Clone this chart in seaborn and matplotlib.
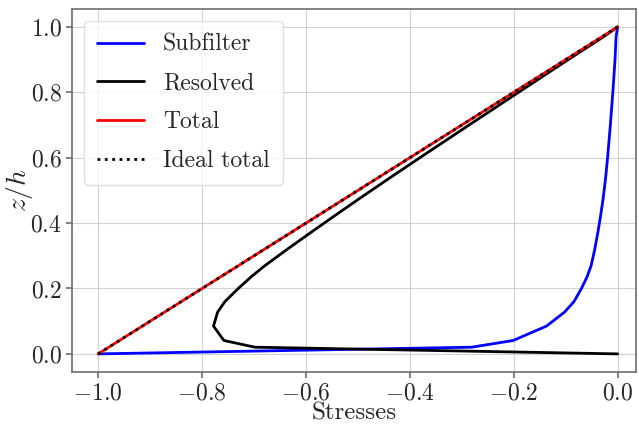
import seaborn as sns
import matplotlib.pyplot as plt

# Heights (z/h) at which the stress profiles are sampled
z = [0.0, 0.0205, 0.041, 0.085, 0.128, 0.16, 0.199, 0.235, 0.270, 0.32, 0.372, 0.42, 0.474,
     0.54, 0.606, 0.7, 0.805, 0.9, 0.97, 1.0]

# Stress profiles
subfilter = [-1.0, -0.281, -0.201, -0.137, -0.102, -0.084, -0.070, -0.059, -0.051, -0.044, -0.038,
             -0.033, -0.028, -0.023, -0.019, -0.014, -0.009, -0.005, -0.003, 0.0]
resolved = [0.0, -0.6985, -0.758, -0.778, -0.770, -0.756, -0.731, -0.706, -0.679, -0.636, -0.590,
            -0.547, -0.498, -0.437, -0.375, -0.286, -0.186, -0.095, -0.027, 0.0]
total = [-1.0, -0.9795, -0.959, -0.915, -0.872, -0.84, -0.801, -0.765, -0.730, -0.68, -0.628,
         -0.58, -0.526, -0.46, -0.394, -0.3, -0.195, -0.1, -0.03, 0.0]

# Ideal linear total stress
ideal_z = [0.0, 1.0]
ideal_total = [-1.0, 0.0]

sns.set_theme(style="ticks")
plt.rcParams["font.family"] = "serif"
plt.rcParams["font.serif"] = ["cmr10"]
plt.rcParams["mathtext.fontset"] = "cm"
plt.rcParams["axes.formatter.use_mathtext"] = True
plt.rcParams["axes.unicode_minus"] = True

fig, ax = plt.subplots(figsize=(6.39, 4.25), dpi=100)
fig.subplots_adjust(left=0.113, right=0.995, bottom=0.125, top=0.979)

sns.lineplot(x=subfilter, y=z, sort=False, estimator=None, color="blue", lw=2, label="Subfilter", ax=ax)
sns.lineplot(x=resolved, y=z, sort=False, estimator=None, color="black", lw=2, label="Resolved", ax=ax)
sns.lineplot(x=total, y=z, sort=False, estimator=None, color="red", lw=2, label="Total", ax=ax)
sns.lineplot(x=ideal_total, y=ideal_z, sort=False, estimator=None, color="black", lw=2,
             linestyle=":", label="Ideal total", ax=ax)

ax.set_xlim(-1.05, 0.035)
ax.set_ylim(-0.055, 1.055)
ax.grid(True, color="0.82", lw=0.8)
for s in ax.spines.values():
    s.set_color("0.45")
ax.tick_params(labelsize=17, color="0.45", length=4)
ax.set_xlabel("Stresses", fontsize=18)
ax.set_ylabel("$z/h$", fontsize=20)
ax.xaxis.set_label_coords(0.5, -0.085)
ax.yaxis.set_label_coords(-0.066, 0.5)

leg = ax.legend(loc="upper left", fontsize=17, handlelength=2.0, borderpad=0.55,
                labelspacing=0.7, framealpha=0.8, edgecolor="0.85")
for line in leg.get_lines():
    line.set_linewidth(2)

plt.savefig("out.png", dpi=100)
